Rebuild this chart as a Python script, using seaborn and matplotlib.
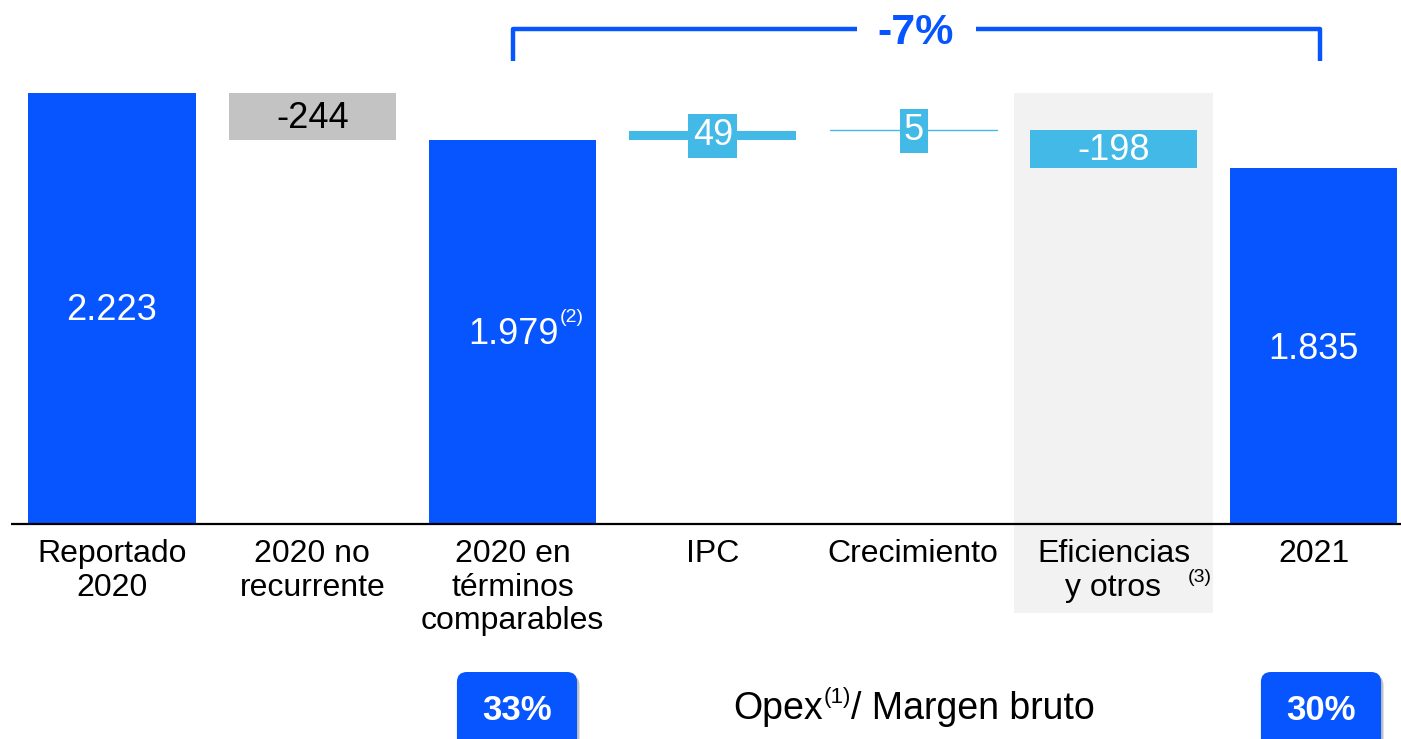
#! /usr/bin/env python3
# -*- coding: utf-8 -*-

import numpy as np
import pandas as pd
import seaborn as sns
import matplotlib
matplotlib.use('Agg')
import matplotlib.pyplot as plt
from matplotlib.patches import Rectangle, FancyBboxPatch

#######DATA#######
categories = ['Reportado\n2020', '2020 no\nrecurrente', '2020 en\ntérminos\ncomparables',
              'IPC', 'Crecimiento', 'Eficiencias\ny otros', '2021']
values = [2223, -244, 1979, 49, 5, -198, 1835]
is_total = [True, False, True, False, False, False, True]
value_labels = ['2.223', '-244', '1.979', '49', '5', '-198', '1.835']
change_label = '-7%'
ratio_labels = ['33%', '30%']
ratio_title = 'Opex'

BLUE = '#0655FE'
GREY = '#C3C3C3'
LIGHT = '#42B9E6'
BAND = '#F2F2F2'

#######LAYOUT (pixels of the 1401x739 picture)#######
W, H = 1401, 739
x0, dx = 112.0, 200.3      # centre of first bar, bar spacing
base, sy = 524.0, 431/2223  # baseline pixel, pixels per unit

def X(px):
    return (px - x0) / dx

def Y(py):
    return (base - py) / sy

#Waterfall table
rows = []
running = 0
for cat, v, tot in zip(categories, values, is_total):
    if tot:
        bottom, top = 0, v
        running = v
    else:
        bottom, top = (running, running + v) if v > 0 else (running + v, running)
        running = running + v
    rows.append(dict(cat=cat, value=v, bottom=bottom, top=top, total=tot))
df = pd.DataFrame(rows)

###########MAIN###########
sns.set_style('white')
plt.rcParams['font.family'] = ['Liberation Sans', 'DejaVu Sans']
plt.rcParams['text.color'] = 'black'

fig = plt.figure(figsize=(W/100, H/100), dpi=100)
ax = fig.add_axes([0, 0, 1, 1])

#Eficiencias background band
ax.add_patch(Rectangle((5 - 0.495, Y(613)), 0.99, Y(93) - Y(613),
                       facecolor=BAND, edgecolor='none', zorder=0))

#Total bars
tot_df = df.copy()
tot_df['h'] = np.where(tot_df['total'], tot_df['top'], np.nan)
sns.barplot(data=tot_df, x='cat', y='h', order=categories, color=BLUE,
            width=0.834, ax=ax, zorder=2, saturation=1, errorbar=None, linewidth=0)

#Floating bars
colors = {1: GREY, 3: LIGHT, 4: LIGHT, 5: LIGHT}
for i, r in df.iterrows():
    if r['total']:
        continue
    h = r['top'] - r['bottom']
    if abs(h) < 8:
        ax.plot([i - 0.417, i + 0.417], [r['top'], r['top']], color=LIGHT, lw=1, zorder=2)
    else:
        ax.bar(i, h, bottom=r['bottom'], width=0.834, color=colors[i], linewidth=0,
               edgecolor='none', zorder=2)

#Baseline
ax.plot([X(11), X(W)], [0, 0], color='black', lw=1.6, zorder=3, solid_capstyle='butt')

#Value labels
fs_val = 26
ax.text(0, Y(311), value_labels[0], ha='center', va='center', color='white', fontsize=fs_val, zorder=4)
ax.text(1, Y(119), value_labels[1], ha='center', va='center', color='black', fontsize=fs_val, zorder=4)
ax.text(X(514), Y(335), value_labels[2], ha='center', va='center', color='white', fontsize=fs_val, zorder=4)
ax.text(X(560), Y(318), '(2)', ha='left', va='center', color='white', fontsize=14, zorder=4)
ax.text(3, Y(136), value_labels[3], ha='center', va='center', color='white', fontsize=fs_val, zorder=4,
        bbox=dict(boxstyle='square,pad=0.12', fc=LIGHT, ec='none'))
ax.text(X(914), Y(131), value_labels[4], ha='center', va='center', color='white', fontsize=fs_val, zorder=4,
        bbox=dict(boxstyle='square,pad=0.12', fc=LIGHT, ec='none'))
ax.text(5, Y(151), value_labels[5], ha='center', va='center', color='white', fontsize=fs_val, zorder=4)
ax.text(6, Y(350), value_labels[6], ha='center', va='center', color='white', fontsize=fs_val, zorder=4)

#Category labels
for i, cat in enumerate(categories):
    ax.text(i, Y(539), cat, ha='center', va='top', fontsize=23, linespacing=1.16, zorder=4)
ax.text(X(1188), Y(577), '(3)', ha='left', va='center', fontsize=14, zorder=4)

#Bracket with -7%
lw_b = 3.2
yb, yb2 = Y(29), Y(61)
ax.plot([2, 2, X(857)], [yb2, yb, yb], color=BLUE, lw=lw_b, solid_joinstyle='round',
        solid_capstyle='butt', zorder=4)
ax.plot([X(976), X(1320), X(1320)], [yb, yb, yb2], color=BLUE, lw=lw_b, solid_joinstyle='round',
        solid_capstyle='butt', zorder=4)
ax.text(X(916), Y(33), change_label, ha='center', va='center', color=BLUE, fontsize=31,
        fontweight='bold', zorder=4)

#Opex / Margen bruto boxes
aspect = dx / sy
for xc, lab in zip([X(517), X(1321)], ratio_labels):
    bw = 0.6
    yb_top, yb_bot = Y(672), Y(760)
    shadow = FancyBboxPatch((xc - bw/2 + 0.012, yb_bot - 3/sy), bw, yb_top - yb_bot,
                            boxstyle='round,pad=0,rounding_size=0.05', mutation_aspect=aspect,
                            fc='#9A9A9A', ec='none', alpha=0.6, zorder=3, clip_on=False)
    ax.add_patch(shadow)
    box = FancyBboxPatch((xc - bw/2, yb_bot), bw, yb_top - yb_bot,
                         boxstyle='round,pad=0,rounding_size=0.05', mutation_aspect=aspect,
                         fc=BLUE, ec='none', zorder=4, clip_on=False)
    ax.add_patch(box)
    ax.text(xc, Y(710), lab, ha='center', va='center', color='white', fontsize=25,
            fontweight='bold', zorder=5)

ax.text(X(823), Y(709), ratio_title, ha='right', va='center', fontsize=27, zorder=4)
ax.text(X(824), Y(697), '(1)', ha='left', va='center', fontsize=16, zorder=4)
ax.text(X(851), Y(709), '/ Margen bruto', ha='left', va='center', fontsize=27, zorder=4)

#Format plot
ax.set_xlim(X(0), X(W))
ax.set_ylim(Y(H), Y(0))
ax.axis('off')
plt.savefig('out.png', dpi=100)
plt.close()
